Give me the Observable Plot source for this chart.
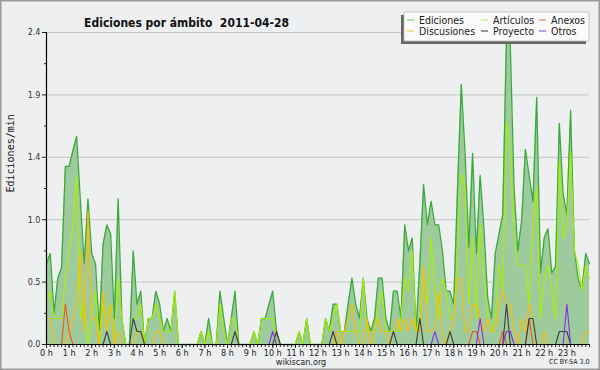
<!DOCTYPE html>
<html><head><meta charset="utf-8">
<script src="https://cdn.jsdelivr.net/npm/d3@7"></script>
<script src="https://cdn.jsdelivr.net/npm/@observablehq/plot@0.6"></script>
<style>
html,body{margin:0;padding:0;background:#eeeff1;overflow:hidden;}
#chart svg{display:block;}
</style></head><body><div id="chart"></div>
<script>
// time axis: 10-minute bins over the day (minutes since 00:00)
const binMinutes = d3.range(0, 1441, 10);

const ediciones = [
0.62,0.70,0.24,0.51,0.59,1.37,1.37,1.49,1.60,1.10,0.62,1.12,
0.70,0.62,0.11,0.77,0.92,0.85,0.20,1.12,0.20,0,0,0.72,
0.31,0.41,0,0.20,0.20,0.41,0.31,0.10,0.20,0.10,0.41,0,
0,0,0,0,0,0.10,0,0.20,0,0,0.41,0.20,
0,0.20,0.41,0,0,0,0,0.10,0,0.20,0.20,0.31,
0.41,0.10,0,0,0,0,0,0.10,0,0.20,0,0,
0,0,0.20,0.10,0.31,0.31,0.10,0.10,0.31,0.51,0.31,0.20,
0.51,0.20,0.10,0.20,0.51,0.51,0.20,0.10,0.41,0.41,0.20,0.92,
0.72,0.82,0.10,0.62,1.23,0.92,1.10,0.92,0.92,0.72,0.41,0.41,
0.31,1.20,2.00,1.47,0.75,1.47,0.70,1.30,0.90,0.36,0.20,0.70,
0.85,1.00,2.40,2.30,1.20,0.72,0.95,1.50,1.30,1.10,1.90,0.55,
0.82,0.89,0.55,0.60,1.70,1.16,1.00,1.80,0.72,0.50,0.42,0.70,
0.62];

const articulos = [
0.33,0.41,0.20,0.20,0.20,0.51,0.72,0.90,1.30,0.20,0.31,0,
0.20,0.41,0,0.31,0.10,0.31,0,0.51,0.20,0,0,0.20,
0.20,0.31,0,0.20,0.20,0.31,0.20,0.10,0.10,0.10,0.41,0,
0,0,0,0,0,0.10,0,0.10,0,0,0.31,0.10,
0,0.20,0.20,0,0,0,0,0.10,0,0.20,0.20,0.20,
0.20,0,0,0,0,0,0,0.10,0,0.20,0,0,
0,0,0.20,0.10,0.20,0.31,0.10,0.10,0.10,0.10,0.10,0.10,
0.51,0.10,0.10,0.10,0.31,0.41,0.10,0.10,0.10,0.10,0.20,0.51,
0.41,0.72,0.10,0.20,0.51,0.31,0.82,0.41,0.20,0.51,0.41,0.20,
0.20,0.70,1.31,1.21,0.31,0.82,0.20,0.92,0.51,0.20,0.10,0.20,
0.61,0.41,1.71,1.52,0.80,0.61,0.61,0.61,0.31,0.92,1.21,0.20,
0.51,0.61,0.41,0.20,1.41,0.82,0.92,1.48,0.72,0.61,0.41,0.61,
0.51];

const discusiones = [
0.20,0.20,0,0,0,0,0.10,0.20,0.31,0.72,0.10,1.03,
0.20,0.20,0,0.41,0.10,0.31,0,0.10,0,0,0,0,
0.10,0.10,0,0,0,0.10,0.10,0,0,0,0,0,
0,0,0,0,0,0,0,0,0,0,0,0,
0,0,0,0,0,0,0,0,0,0,0,0,
0,0,0,0,0,0,0,0,0,0,0,0,
0,0,0,0,0,0.10,0,0.10,0.20,0.31,0.10,0,
0,0.20,0,0.10,0.20,0.10,0.10,0,0.10,0.20,0.10,0.20,
0.10,0.20,0.10,0.10,0.61,0.10,0.10,0.10,0.41,0.10,0,0.10,
0.20,0.51,0.51,0.10,0.10,0.31,0.31,0.20,0.10,0.20,0.10,0.10,
0.31,0.41,0.31,0.31,0.10,0,0.20,0.10,0.31,0.20,0,0,
0.10,0,0,0,0,0,0,0,0,0,0,0.10,
0.10];

const anexos = [
0,0,0,0,0,0.31,0.10,0,0,0,0,0,
0,0,0,0,0,0,0,0,0,0,0,0,
0,0,0,0,0,0,0,0,0,0,0,0,
0,0,0,0,0,0,0,0,0,0,0,0,
0,0,0,0,0,0,0,0,0,0,0,0,
0,0,0,0,0,0,0,0,0,0,0,0,
0,0,0,0,0,0,0,0,0,0,0,0,
0,0,0,0,0,0,0,0,0,0,0,0,
0,0,0,0,0,0,0,0,0,0,0,0,
0,0,0,0,0,0.10,0.10,0,0,0,0,0,
0,0.10,0,0,0,0,0,0,0.20,0,0,0,
0,0,0,0,0,0,0,0,0,0,0,0,
0];

const proyecto = [
0,0,0,0,0,0,0,0,0,0,0,0,
0,0,0,0,0.10,0,0,0,0,0,0,0.20,
0.10,0.10,0,0,0,0,0,0,0,0,0,0,
0,0,0,0,0,0,0,0,0,0,0,0,
0,0,0.10,0,0,0,0,0,0,0,0,0,
0,0.10,0,0,0,0,0,0,0,0,0,0,
0,0,0,0,0.10,0,0,0,0,0,0,0,
0,0,0,0,0,0,0,0,0.10,0,0,0,
0,0,0,0.20,0,0,0,0,0,0,0,0.10,
0,0,0,0,0,0,0,0,0,0,0,0,
0,0,0.31,0,0,0,0,0,0.20,0.20,0,0,
0,0,0,0,0.10,0.10,0.10,0,0,0,0,0,
0];

const otros = [
0,0,0,0,0,0,0,0,0,0,0,0,
0,0,0,0,0,0,0,0,0,0,0,0,
0,0,0,0,0,0,0,0,0,0,0,0,
0,0,0,0,0,0,0,0,0,0,0,0,
0,0,0,0,0,0,0,0,0,0,0,0,
0.10,0,0,0,0,0,0,0,0,0,0,0,
0,0,0,0,0,0,0,0,0,0,0,0,
0,0,0,0,0,0,0,0,0,0,0,0,
0,0,0,0,0,0,0,0.10,0,0,0,0,
0,0,0,0,0,0,0,0.20,0,0,0,0,
0,0,0.10,0.10,0,0,0,0,0,0,0,0,
0,0,0,0,0,0,0.31,0,0,0,0,0,
0];

const seriesNames = ["Ediciones","Artículos","Discusiones","Anexos","Proyecto","Otros"];
const seriesColors = ["#3aaa3a","#aaee00","#ffbb00","#ee5522","#3c3c3c","#8a2be8"];
const legendColors = ["#88cc88","#ccee66","#eecc44","#ee8855","#555555","#9955ee"];
const yTicks = [0, 0.48, 0.96, 1.44, 1.92, 2.4];
const yMinorTicks = [0.24, 0.72, 1.2, 1.68, 2.16];
const hourTicks = d3.range(0, 24);
const titleText = "Ediciones por ámbito\u00a0\u00a02011-04-28";
const yLabel = "Ediciones/min";
const footerText = "wikiscan.org";
const licenseText = "CC BY-SA 3.0";

const seriesValues = [ediciones, articulos, discusiones, anexos, proyecto, otros];
const rows = binMinutes.map((m, i) => ({t: m / 60, E: ediciones[i]}));
const longRows = [];
seriesValues.forEach((vals, s) => {
  binMinutes.forEach((m, i) => longRows.push({t: m / 60, v: vals[i], s: seriesNames[s]}));
});

const condensed = "'DejaVu Sans Condensed', 'DejaVu Sans', sans-serif";

const lineMarks = seriesNames.map((name, s) =>
  Plot.lineY(longRows.filter(d => d.s === name), {
    x: "t", y: "v", stroke: seriesColors[s], strokeWidth: s === 0 ? 1.3 : 1.1
  })
);

const chart = Plot.plot({
  width: 600, height: 370,
  marginLeft: 46, marginRight: 11, marginTop: 32, marginBottom: 26,
  style: {background: "#eeeff1", fontFamily: condensed, fontSize: "9px", color: "#222"},
  x: {domain: [0, 24], axis: null},
  y: {domain: [0, 2.4], axis: null},
  marks: [
    Plot.gridY(yTicks.slice(1), {stroke: "#c4c4c4", strokeOpacity: 1, strokeWidth: 1}),
    Plot.areaY(rows, {x: "t", y: "E", fill: "#9ecb9e"}),
    ...lineMarks,
    Plot.axisY({ticks: yTicks, tickSize: 4, tickPadding: 2, tickFormat: d3.format(".1f"), label: null, fontSize: 9, fill: "#333"}),
    Plot.axisY({ticks: yMinorTicks, tickSize: 2, tickFormat: () => "", label: null}),
    Plot.axisX({ticks: hourTicks, tickSize: 4, tickPadding: 1, tickFormat: d => d + " h", label: null, fontSize: 9, fill: "#222"}),
    Plot.axisX({ticks: binMinutes.map(m => m / 60), tickSize: 3, tickFormat: () => "", label: null}),
    Plot.ruleY([0], {stroke: "#000", strokeWidth: 1.2}),
    Plot.ruleX([0], {stroke: "#000", strokeWidth: 1.2}),
    Plot.text([titleText], {frameAnchor: "top-left", dx: 140, dy: -14, textAnchor: "middle", fontSize: 12, fontWeight: "bold", fill: "#111"}),
    Plot.text([yLabel], {frameAnchor: "left", dx: -36, dy: 4, rotate: -90, fontFamily: "'DejaVu Sans Mono', monospace", fontSize: 10, fill: "#111"}),
    Plot.text([footerText], {frameAnchor: "bottom", dx: -17, dy: 20, fontSize: 9, fill: "#222"}),
    Plot.text([licenseText], {frameAnchor: "bottom-right", dx: 0, dy: 19, textAnchor: "end", fontSize: 7, fill: "#222"})
  ]
});

// outer border and legend box
const svg = d3.select(chart);
svg.insert("rect", ":first-child")
  .attr("x", 0).attr("y", 0).attr("width", 600).attr("height", 370)
  .attr("fill", "#eeeff1");
svg.append("rect").attr("x", 0.75).attr("y", 0.75).attr("width", 598.5).attr("height", 368.5)
  .attr("fill", "none").attr("stroke", "#999").attr("stroke-width", 1.5);

const lg = svg.append("g").attr("font-family", condensed).attr("font-size", 10.5).attr("text-anchor", "start");
lg.append("rect").attr("x", 401).attr("y", 15).attr("width", 185).attr("height", 29).attr("fill", "#666");
lg.append("rect").attr("x", 404).attr("y", 12).attr("width", 185).attr("height", 29)
  .attr("fill", "#fafafa").attr("stroke", "#bbb").attr("stroke-width", 0.8);
const legendPos = [
  [407, 20], [481, 20], [539, 20],
  [407, 31], [481, 31], [539, 31]
];
const legendOrder = [0, 1, 3, 2, 4, 5];
legendOrder.forEach((s, k) => {
  const [lx, ly] = legendPos[k];
  lg.append("line").attr("x1", lx).attr("x2", lx + 7).attr("y1", ly).attr("y2", ly)
    .attr("stroke", legendColors[s]).attr("stroke-width", 1.2);
  lg.append("text").attr("x", lx + 12).attr("y", ly).attr("dy", "0.35em")
    .attr("text-anchor", "start").attr("fill", "#222").text(seriesNames[s]);
});

document.getElementById("chart").append(chart);
</script>
</body></html>
